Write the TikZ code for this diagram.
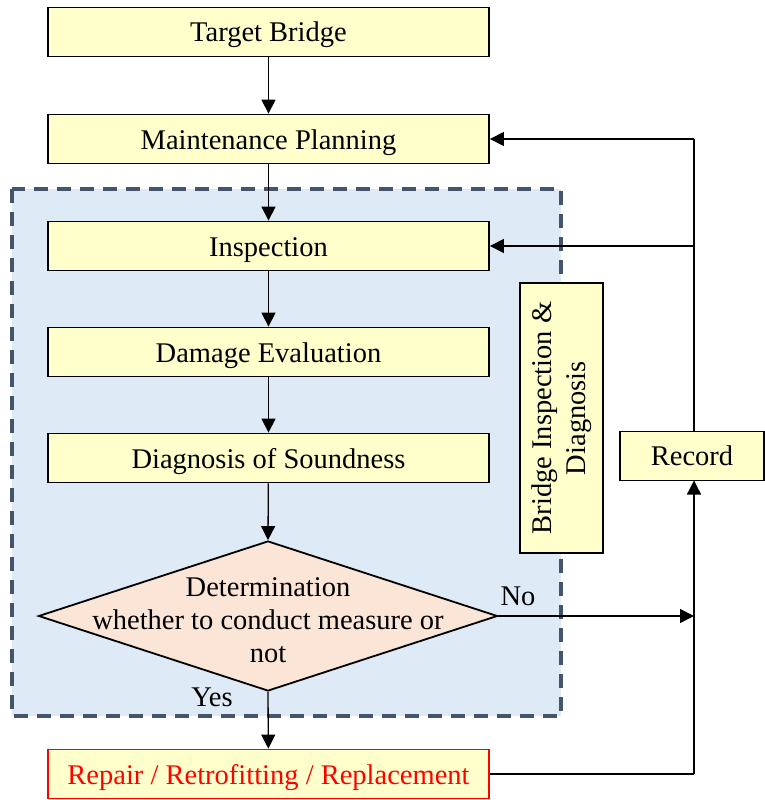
\documentclass[tikz,border=0pt]{standalone}
\usepackage{fontspec}
\setmainfont{Liberation Serif}
\usetikzlibrary{arrows.meta,shapes.geometric}
\definecolor{boxyellow}{HTML}{FFFFCC}
\definecolor{peach}{HTML}{FBE5D6}
\definecolor{areablue}{HTML}{DEEAF6}
\definecolor{dashgray}{HTML}{44546A}
\tikzset{
  ybox/.style={draw=black, line width=1.8pt, fill=boxyellow, inner sep=0pt,
    font=\fontsize{28.5}{34}\selectfont, align=center},
  mainbox/.style={ybox, minimum width=441pt, minimum height=49pt,
    text height=20pt, text depth=0pt},
  conn/.style={line width=1.3pt, -{Triangle[length=14pt,width=14pt]}},
  plain/.style={line width=1.3pt},
  lbl/.style={font=\fontsize{28.5}{33}\selectfont, inner sep=0pt}
}
\begin{document}
\begin{tikzpicture}[x=1pt,y=-1pt]
\useasboundingbox (0,0) rectangle (764,800);
% shaded area
\fill[areablue] (12,189) rectangle (561,716);
\draw[dashgray, line width=3.5pt, dash pattern=on 14pt off 9pt] (12,189) rectangle (561,716);
% main boxes
\node[mainbox] (tb) at (268.5,32) {Target Bridge};
\node[mainbox] (mp) at (268.5,139) {Maintenance Planning};
\node[mainbox] (insp) at (268.5,246) {Inspection};
\node[mainbox] (dmg) at (268.5,352) {Damage Evaluation};
\node[mainbox] (diag) at (268.5,458) {Diagnosis of Soundness};
\node[diamond, draw=black, line width=1.8pt, fill=peach, minimum width=459pt, minimum height=150pt, inner sep=0pt] (dia) at (268,616) {};
\node[lbl, align=center] (diatext) at (268,620) {Determination\\whether to conduct measure or\\not};
\node[mainbox, draw=red, text=red] (rep) at (268.5,774) {Repair / Retrofitting / Replacement};
\node[ybox, rotate=90, minimum width=270pt, minimum height=83pt] (bid) at (561.5,418) {Bridge Inspection \&\\Diagnosis};
\node[ybox, minimum width=144pt, minimum height=49pt, text height=18pt, text depth=0pt] (rec) at (692,456) {Record};
% coordinates on the right return line
\coordinate (vtop) at (694,139);
\coordinate (vins) at (694,246);
\coordinate (vno) at (694,616);
\coordinate (vbot) at (694,774);
\coordinate (vrt) at (694,431.5);
\coordinate (vrb) at (694,480.5);
% vertical flow
\draw[conn] (tb) -- (mp);
\draw[conn] (mp) -- (insp);
\draw[conn] (insp) -- (dmg);
\draw[conn] (dmg) -- (diag);
\draw[conn] (diag) -- (dia.north);
\draw[conn] (dia.south) -- (rep);
% No branch
\draw[conn] (dia.east) -- (vno);
% repair to record
\draw[plain] (rep.east) -- (vbot);
\draw[conn] (vbot) -- (vrb);
% record back up
\draw[plain] (vrt) -- (vtop);
\draw[conn] (vtop) -- (mp.east);
\draw[conn] (vins) -- (insp.east);
% labels
\node[lbl] (nolbl) at (518,596) {No};
\node[lbl] (yeslbl) at (212,697) {Yes};
\end{tikzpicture}
\end{document}
